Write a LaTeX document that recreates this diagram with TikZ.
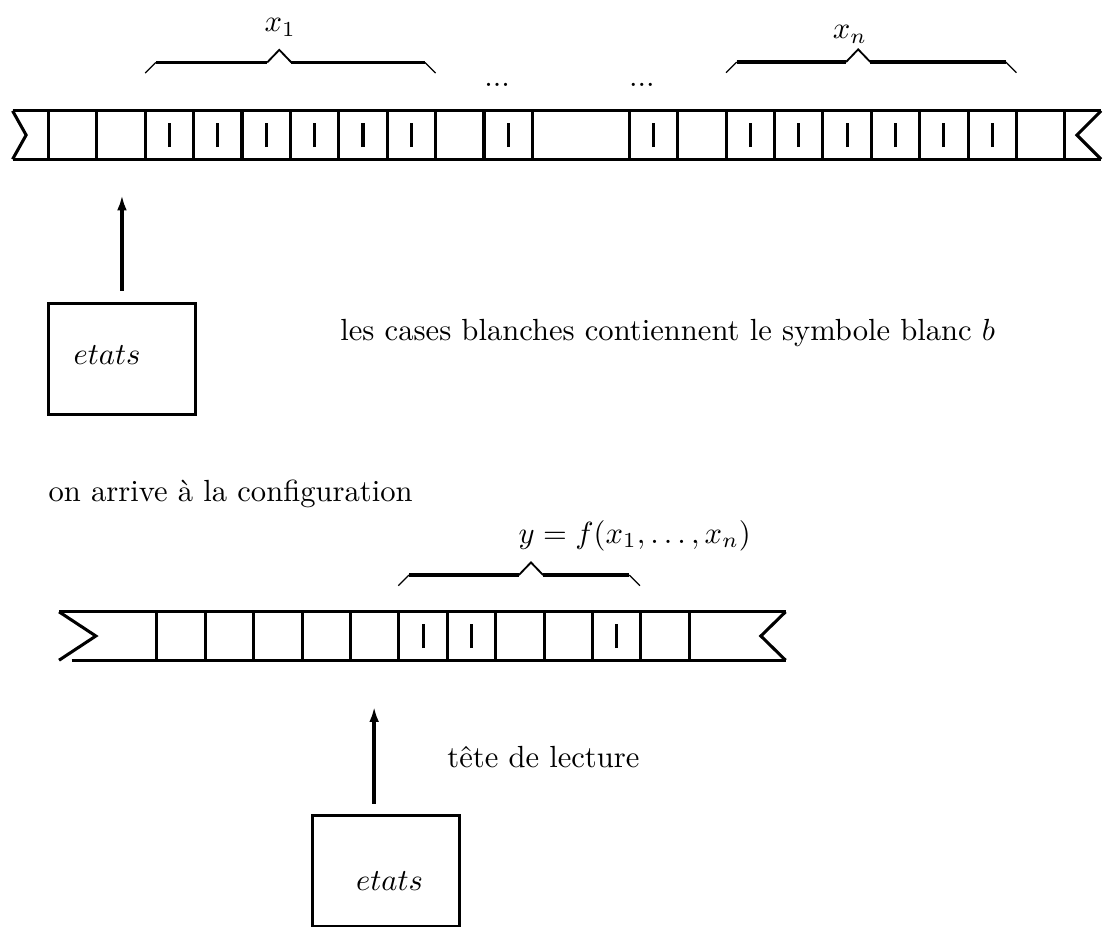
\documentclass[tikz,border=0pt]{standalone}
\usepackage{amsmath}
\usepackage{tikz}
\usetikzlibrary{arrows.meta}
\tikzset{
  tape/.style={line width=1pt},
  fleche/.style={line width=1.3pt, -{Latex[length=5pt,width=3.2pt]}},
  boite/.style={draw, line width=1pt, inner sep=0pt, minimum width=1.69cm, minimum height=1.27cm},
  texte/.style={inner sep=0pt, anchor=base west},
  label/.style={inner sep=0pt, anchor=base},
}
% brace over some cells: left x, right x, tip x, height
\newcommand{\accolade}[4]{%
  \draw[thin] (#1,#4-0.22) -- (#1+0.22,#4);
  \draw[line width=1.2pt] (#1+0.22,#4) -- (#3-0.25,#4);
  \draw[semithick] (#3-0.25,#4) -- (#3,#4+0.26) -- (#3+0.25,#4);
  \draw[line width=1.2pt] (#3+0.25,#4) -- (#2-0.22,#4);
  \draw[thin] (#2-0.22,#4) -- (#2,#4-0.22);
}
\begin{document}
\begin{tikzpicture}[x=0.556cm, y=0.556cm]
  \useasboundingbox (0,0) rectangle (22.83,19.15);
  % top tape
  \draw[tape] (0.26,16.86) -- (22.75,16.86);
  \draw[tape] (0.26,15.86) -- (22.75,15.86);
  \draw[tape] (0.26,16.86) -- (0.54,16.36) -- (0.26,15.86);
  \draw[tape] (22.75,16.86) -- (22.25,16.36) -- (22.75,15.86);
  \foreach \x in {1,2,3,4,5,6,7,8,9,10,11,13,14,15,16,17,18,19,20,21,22}
    \draw[tape] (\x,15.86) -- (\x,16.86);
  \foreach \x in {3,4,5,6,7,8,10,13,15,16,17,18,19,20}
    \draw[tape] (\x+0.5,16.11) -- (\x+0.5,16.61);
  % braces and dots
  \accolade{3}{9}{5.77}{17.86}
  \accolade{15}{21}{17.73}{17.87}
  \node[label] (x1) at (5.79,18.49) {$x_1$};
  \node[label] (xn) at (17.56,18.35) {$x_n$};
  \node[label] (dots1) at (10.27,17.37) {...};
  \node[label] (dots2) at (13.26,17.37) {...};
  % head and states, first configuration
  \coordinate (head1) at (2.52,15.12);
  \node[boite] (box1) at (2.515,11.735) {};
  \node[texte] (etats1) at (1.51,11.61) {$etats$};
  \draw[fleche, shorten <=1.3mm] (box1.north -| head1) -- (head1);
  \node[texte] (blanc) at (7.02,12.11) {les cases blanches contiennent le symbole blanc $b$};
  \node[texte] (arrive) at (0.99,8.79) {on arrive \`a la configuration};
  % bottom tape
  \draw[tape] (1.22,6.51) -- (16.23,6.51);
  \draw[tape] (1.48,5.51) -- (16.23,5.51);
  \draw[tape] (1.22,6.51) -- (1.98,6.01) -- (1.22,5.51);
  \draw[tape] (16.23,6.51) -- (15.72,6.01) -- (16.23,5.51);
  \foreach \x in {3,...,14}
    \draw[tape] (\x+0.24,5.51) -- (\x+0.24,6.51);
  \foreach \x in {8,9,12}
    \draw[tape] (\x+0.74,5.76) -- (\x+0.74,6.26);
  \accolade{8.23}{13.22}{10.97}{7.27}
  \node[texte] (resultat) at (10.70,7.93) {$y=f(x_1,\ldots,x_n)$};
  % head and states, final configuration
  \coordinate (head2) at (7.73,4.55);
  \node[boite] (box2) at (7.98,1.16) {};
  \node[label] (etats2) at (8.05,0.76) {$etats$};
  \draw[fleche, shorten <=1.2mm] (box2.north -| head2) -- (head2);
  \node[texte] (tete) at (9.23,3.29) {t\^ete de lecture};
\end{tikzpicture}
\end{document}
